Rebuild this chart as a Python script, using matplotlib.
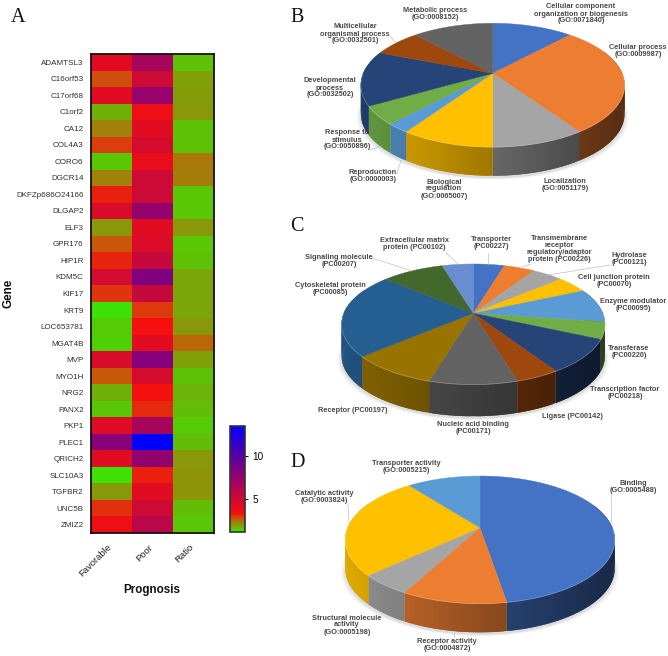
import matplotlib
matplotlib.use('Agg')
import matplotlib.pyplot as plt
from matplotlib.colors import LinearSegmentedColormap, Normalize, to_rgb
from matplotlib.transforms import ScaledTranslation
import numpy as np

plt.rcParams['font.family'] = ['Liberation Sans', 'DejaVu Sans']

W, H = 668, 656

# Heatmap data
genes = ['ADAMTSL3', 'C16orf53', 'C17orf68', 'C1orf2', 'CA12', 'COL4A3', 'CORO6', 'DGCR14',
         'DKFZp686O24166', 'DLGAP2', 'ELF3', 'GPR176', 'HIP1R', 'KDM5C', 'KIF17', 'KRT9',
         'LOC653781', 'MGAT4B', 'MVP', 'MYO1H', 'NRG2', 'PANX2', 'PKP1', 'PLEC1', 'QRICH2',
         'SLC10A3', 'TGFBR2', 'UNC5B', 'ZMIZ2']
prognosis = ['Favorable', 'Poor', 'Ratio']
favorable = [4.25, 2.85, 4.25, 1.85, 2.3, 2.95, 1.6, 2.3, 3.25, 4.65, 2.05, 2.75, 3.2, 4.9, 3.05,
             1.3, 1.55, 1.5, 4.6, 2.75, 1.85, 1.6, 4.4, 8.1, 4.3, 1.3, 2.05, 3.1, 3.7]
poor = [6.8, 5.1, 7.45, 3.7, 4.25, 4.8, 3.95, 5.1, 5.2, 7.6, 4.25, 4.5, 5.4, 8.4, 5.4,
        3.0, 3.4, 4.25, 8.2, 4.8, 3.4, 3.15, 6.8, 13.46, 7.7, 3.25, 4.25, 5.1, 6.0]
ratio = [1.65, 1.95, 2.0, 2.05, 1.65, 1.65, 2.4, 2.35, 1.6, 1.6, 2.05, 1.6, 1.65, 1.9, 1.9,
         1.9, 2.05, 2.6, 1.95, 1.65, 1.8, 1.7, 1.55, 1.7, 2.05, 2.1, 2.1, 1.7, 1.6]

# Pie data, slice counts clockwise from 12 o'clock
b_counts = [5, 12, 4, 4, 1, 2, 6, 3, 5]
c_counts = [1, 1, 1, 1, 2, 1, 2, 1, 2, 2, 5, 2, 1]
d_counts = [9, 2, 1, 5, 2]

pie_colors = ['#4472C4', '#ED7D31', '#A5A5A5', '#FFC000', '#5B9BD5', '#70AD47', '#264478',
              '#9E480E', '#636363', '#997300', '#255E91', '#43682B', '#698ED0']
d_colors = ['#4472C4', '#ED7D31', '#A5A5A5', '#FFC000', '#5B9BD5']

b_labels = ['Cellular component\norganization or biogenesis\n(GO:0071840)', 'Cellular process\n(GO:0009987)',
            'Localization\n(GO:0051179)', 'Biological\nregulation\n(GO:0065007)', 'Reproduction\n(GO:0000003)',
            'Response to\nstimulus\n(GO:0050896)', 'Developmental\nprocess\n(GO:0032502)',
            'Multicellular\norganismal process\n(GO:0032501)', 'Metabolic process\n(GO:0008152)']
b_label_pos = [(581, 14), (638, 51), (565, 185), (444, 189), (373, 176), (347, 140), (330, 88), (355, 34), (435, 14)]
c_labels = ['Transporter\n(PC00227)', 'Transmembrane\nreceptor\nregulatory/adaptor\nprotein (PC00226)',
            'Hydrolase\n(PC00121)', 'Cell junction protein\n(PC00070)', 'Enzyme modulator\n(PC00095)',
            'Transferase\n(PC00220)', 'Transcription factor\n(PC00218)', 'Ligase (PC00142)',
            'Nucleic acid binding\n(PC00171)', 'Receptor (PC00197)', 'Cytoskeletal protein\n(PC00085)',
            'Signaling molecule\n(PC00207)', 'Extracellular matrix\nprotein (PC00102)']
c_label_pos = [(491, 243), (559, 249), (629, 259), (614, 281), (633, 305), (629, 352), (625, 393), (572, 417),
               (473, 428), (353, 410), (330, 289), (339, 261), (414, 244)]
d_labels = ['Binding\n(GO:0005488)', 'Receptor activity\n(GO:0004872)', 'Structural molecule\nactivity\n(GO:0005198)',
            'Catalytic activity\n(GO:0003824)', 'Transporter activity\n(GO:0005215)']
d_label_pos = [(633, 487), (447, 645), (347, 625), (324, 497), (406, 467)]

# Thin leader lines, pixels
leaders = [[(390, 36), (395, 42)], [(370, 150), (381, 146)], [(397, 174), (401, 160)],
           [(372, 258), (412, 271)], [(446, 253), (458, 264)], [(488, 253), (488, 264)],
           [(522, 267), (531, 264)], [(610, 265), (548, 275)],
           [(611, 493), (611, 522)], [(348, 505), (349, 523)], [(454, 633), (454, 637)]]


def to_fig_axes(left, top, right, bottom):
    return [left / W, 1 - bottom / H, (right - left) / W, (bottom - top) / H]


def rim_point(theta, r, cx, cy, a, b, k):
    """Perspective projection of a point of the pie disc to pixels"""
    u = r * np.sin(theta)
    v = r * np.cos(theta)
    w = 1 + k * v
    return cx + a * u / w, cy - b * v / w


def draw_pie(ax, counts, colors, cx, cy, a, b, k, depth):
    fractions = np.array(counts) / np.sum(counts)
    edges = np.concatenate([[0], np.cumsum(fractions)]) * 2 * np.pi
    rx = a / np.sqrt(1 - k ** 2)

    # soft shadow under the pie
    t = np.linspace(0, 2 * np.pi, 200)
    sx, sy = rim_point(t, 1.0, cx, cy, a, b, k)
    for grow, alpha in zip([1.035, 1.025, 1.015, 1.005], [0.02, 0.03, 0.04, 0.05]):
        ax.fill(cx + (sx - cx) * grow, sy + depth + 2 + (grow - 1) * 60, color='black', alpha=alpha, lw=0, zorder=1)

    # side wall, shaded from left to right
    for i in range(len(counts)):
        base = np.array(to_rgb(colors[i]))
        steps = max(int((edges[i + 1] - edges[i]) / 0.02), 2)
        angles = np.linspace(edges[i], edges[i + 1], steps + 1)
        for j in range(steps):
            t0 = angles[j]
            # each strip runs under the next one so no seams show
            t1 = angles[min(j + 2, steps)]
            if np.cos(t0) > 0.4:
                continue
            x0, y0 = rim_point(t0, 1.0, cx, cy, a, b, k)
            x1, y1 = rim_point(t1, 1.0, cx, cy, a, b, k)
            shade = 0.62 - 0.26 * ((x0 + x1) / 2 - cx) / rx
            ax.fill([x0, x1, x1, x0], [y0, y1, y1 + depth, y0 + depth], color=base * shade, lw=0, zorder=2)

    # top of the pie
    for i in range(len(counts)):
        angles = np.linspace(edges[i], edges[i + 1], 80)
        x, y = rim_point(angles, 1.0, cx, cy, a, b, k)
        ax.fill(np.concatenate([[cx], x]), np.concatenate([[cy], y]), color=colors[i], lw=0.3, zorder=3)
        # light bevel along the front edge
        front = np.cos(angles) < 0.0
        if front.any():
            light = np.array(to_rgb(colors[i])) * 0.7 + 0.3
            ax.plot(x[front], y[front] + 0.3, color=np.clip(light, 0, 1), lw=0.5, zorder=4)


fig = plt.figure(figsize=(W / 100, H / 100), dpi=100)

# Panel A heatmap
cmap = LinearSegmentedColormap.from_list('gene', [(0.0, '#38E605'), (0.12, '#C85A0A'), (0.177, '#F50F0F'),
                                                  (0.59, '#800080'), (1.0, '#0000FF')])
norm = Normalize(vmin=1.23, vmax=13.46)
ax_heat = fig.add_axes(to_fig_axes(90.5, 54, 214, 533))
matrix = np.column_stack([favorable, poor, ratio])
mesh = ax_heat.pcolormesh(matrix, cmap=cmap, norm=norm)
ax_heat.invert_yaxis()
ax_heat.set_yticks(np.arange(len(genes)) + 0.5)
ax_heat.set_yticklabels(genes, fontsize=5.8, color='#303030')
ax_heat.set_xticks(np.arange(3) + 0.5)
ax_heat.set_xticklabels(prognosis, fontsize=6.8, rotation=45, ha='right', rotation_mode='anchor', color='#202020')
ax_heat.tick_params(axis='both', length=0, pad=5)
ax_heat.tick_params(axis='x', pad=7)
# x labels sit a little left of the column centres
shift = ScaledTranslation(-4 / 100, 0, fig.dpi_scale_trans)
for label in ax_heat.get_xticklabels():
    label.set_transform(label.get_transform() + shift)
for spine in ax_heat.spines.values():
    spine.set_linewidth(1.3)
    spine.set_color('#111111')

ax_cbar = fig.add_axes(to_fig_axes(230, 426, 245, 532))
cbar = fig.colorbar(mesh, cax=ax_cbar)
cbar.set_ticks([5, 10])
cbar.ax.tick_params(labelsize=7.2, length=2.5, width=0.8, pad=3, color='#111111')
cbar.outline.set_linewidth(1.2)
cbar.outline.set_edgecolor('#333333')

# Overlay in pixel coordinates for pies and text
ax = fig.add_axes([0, 0, 1, 1], zorder=5)
ax.patch.set_alpha(0)
ax.set_xlim(0, W)
ax.set_ylim(H, 0)
ax.axis('off')

draw_pie(ax, b_counts, pie_colors, 492.7, 73.3, 129.4, 59.5, 0.19, 29)
draw_pie(ax, c_counts, pie_colors, 473.3, 313.3, 129.5, 58.2, 0.18, 32)
draw_pie(ax, d_counts, d_colors, 480, 527.7, 132.3, 61.4, 0.188, 29)

for line in leaders:
    xs, ys = zip(*line)
    ax.plot(xs, ys, color='#BFBFBF', lw=0.5, zorder=5)

for labels, positions in [(b_labels, b_label_pos), (c_labels, c_label_pos), (d_labels, d_label_pos)]:
    for text, (x, y) in zip(labels, positions):
        ax.text(x, y, text, fontsize=5.3, fontweight='bold', color='#484848', ha='center', va='center',
                linespacing=1.0, zorder=6)

ax.text(8, 293, 'Gene', fontsize=8.4, fontweight='bold', rotation=90, ha='center', va='center', color='#111111')
ax.text(152, 590, 'Prognosis', fontsize=8.4, fontweight='bold', ha='center', va='center', color='#111111')

for letter, x, y in [('A', 11, 22), ('B', 290, 22), ('C', 290, 231), ('D', 290, 467)]:
    ax.text(x, y, letter, fontsize=14.5, family='Liberation Serif', ha='left', va='baseline', color='#111111')

fig.savefig('out.png', dpi=100)
